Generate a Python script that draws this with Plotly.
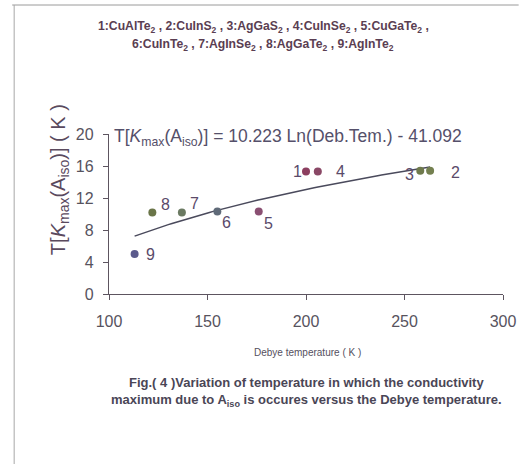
import numpy as np
import plotly.graph_objects as go

# ---- data ----
labels = ["9", "8", "7", "6", "5", "1", "4", "3", "2"]
debye_T = [113, 122, 137, 155, 176, 200, 206, 258, 263]
t_kmax = [5.0, 10.2, 10.2, 10.3, 10.3, 15.3, 15.3, 15.4, 15.4]
point_colors = ["#5b5a8c", "#6a7548", "#6b7a62", "#5f6a78", "#8a4f72",
                "#8c3f60", "#8a4866", "#6f7a4c", "#748050"]
fit_a, fit_b = 10.223, -41.092
fit_range = [113, 263]
x_ticks = [100, 150, 200, 250, 300]
y_ticks = [0, 4, 8, 12, 16, 20]

# label offsets (pixels)
lab_off = {"9": (16, 0), "8": (13, 8), "7": (13, 9), "6": (9, -11), "5": (10, -12),
           "1": (-9, 0), "4": (23, 0), "3": (-11, -4), "2": (25, -2)}

W, H = 528, 464
L, R, T, B = 109, 16, 134, 170
pw, ph = W - L - R, H - T - B

def px(x):
    return (x - L) / pw

def py(y):
    return (H - B - y) / ph

FONT = "Liberation Sans, Arial"
fig = go.Figure()

xf = np.linspace(fit_range[0], fit_range[1], 80)
fig.add_trace(go.Scatter(x=xf, y=fit_a * np.log(xf) + fit_b, mode="lines",
                         line=dict(color="#4a4a5c", width=1.5), hoverinfo="skip"))
fig.add_trace(go.Scatter(x=debye_T, y=t_kmax, mode="markers",
                         marker=dict(size=8, color=point_colors), cliponaxis=False))

ann = []
for lab, x, y in zip(labels, debye_T, t_kmax):
    dx, dy = lab_off[lab]
    ann.append(dict(x=x, y=y, xref="x", yref="y", text=lab, showarrow=False,
                    xshift=dx, yshift=dy, font=dict(size=16, color="#5a4a6a", family=FONT)))

ann.append(dict(x=px(112), y=py(137), xref="paper", yref="paper", xanchor="left",
                yanchor="middle", showarrow=False,
                text="T[<i>K</i><sub>max</sub>(A<sub>iso</sub>)] = 10.223 Ln(Deb.Tem.) - 41.092",
                font=dict(size=17.5, color="#55506a", family=FONT)))
ann.append(dict(x=px(58), y=py(180), xref="paper", yref="paper", textangle=-90,
                showarrow=False, xanchor="center", yanchor="middle",
                text="T[<i>K</i><sub>max</sub>(A<sub>iso</sub>)] ( K )",
                font=dict(size=20, color="#5a4a5e", family=FONT)))
ann.append(dict(x=px(267), y=py(27), xref="paper", yref="paper", showarrow=False,
                xanchor="center", yanchor="middle",
                text="<b>1:CuAlTe<sub>2</sub> , 2:CuInS<sub>2</sub> , 3:AgGaS<sub>2</sub> , 4:CuInSe<sub>2</sub> , 5:CuGaTe<sub>2</sub> ,</b>",
                font=dict(size=12.2, color="#5a3e52", family=FONT)))
ann.append(dict(x=px(267), y=py(45), xref="paper", yref="paper", showarrow=False,
                xanchor="center", yanchor="middle",
                text="<b>6:CuInTe<sub>2</sub> , 7:AgInSe<sub>2</sub> , 8:AgGaTe<sub>2</sub> , 9:AgInTe<sub>2</sub></b>",
                font=dict(size=12.2, color="#5a3e52", family=FONT)))
ann.append(dict(x=px(312), y=py(352), xref="paper", yref="paper", showarrow=False,
                xanchor="center", yanchor="middle", text="Debye temperature ( K )",
                font=dict(size=10, color="#555060", family=FONT)))
ann.append(dict(x=px(311), y=py(382), xref="paper", yref="paper", showarrow=False,
                xanchor="center", yanchor="middle",
                text="<b>Fig.( 4 )Variation of temperature in which the conductivity</b>",
                font=dict(size=13, color="#4a4656", family=FONT)))
ann.append(dict(x=px(311), y=py(400), xref="paper", yref="paper", showarrow=False,
                xanchor="center", yanchor="middle",
                text="<b>maximum due to A<sub>iso</sub> is occures versus the Debye temperature.</b>",
                font=dict(size=13, color="#4a4656", family=FONT)))

shapes = [
    dict(type="line", xref="paper", yref="paper", x0=px(10), x1=px(528), y0=py(5), y1=py(5),
         line=dict(color="#9a9a9a", width=1)),
    dict(type="line", xref="paper", yref="paper", x0=px(12), x1=px(12), y0=py(5), y1=py(464),
         line=dict(color="#a8a8a8", width=1)),
]

axfont = dict(size=16, color="#57535e", family=FONT)
fig.update_layout(
    width=W, height=H, margin=dict(l=L, r=R, t=T, b=B),
    paper_bgcolor="white", plot_bgcolor="white", showlegend=False,
    annotations=ann, shapes=shapes,
    xaxis=dict(range=[100, 300], tickvals=x_ticks, showgrid=False, zeroline=False,
               showline=True, linecolor="#5d5560", linewidth=1.3, ticks="outside",
               ticklen=5, tickcolor="#5d5560", tickfont=axfont, ticklabelstandoff=8),
    yaxis=dict(range=[0, 20], tickvals=y_ticks, showgrid=False, zeroline=False,
               showline=True, linecolor="#5d5560", linewidth=1.3, ticks="outside",
               ticklen=5, tickcolor="#5d5560", tickfont=axfont, ticklabelstandoff=6),
)

fig.write_html("out.html")
